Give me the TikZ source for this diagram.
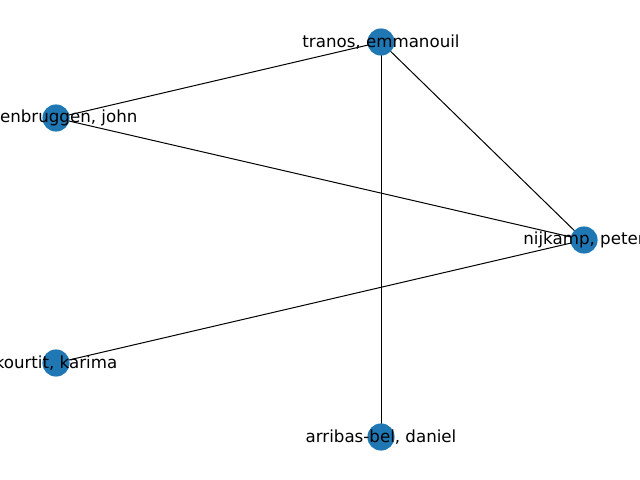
\documentclass[tikz,border=0pt]{standalone}
\usepackage{fontspec}
\setmainfont{DejaVu Sans}
\usepackage{tikz}

\begin{document}
\begin{tikzpicture}
[x=0.72pt,y=-0.72pt,dot/.style={circle,fill=nxblue,inner sep=0pt,minimum size=19.54pt},
 lbl/.style={font=\fontsize{12pt}{14pt}\selectfont,text=black,inner sep=0pt}]
  \definecolor{nxblue}{HTML}{1F77B4}
  \useasboundingbox (0,0) rectangle (640,480);
  \clip (0,0) rectangle (640,480);

  \coordinate (tr) at (381,42);
  \coordinate (st) at (56,118);
  \coordinate (ni) at (584,240);
  \coordinate (ko) at (56,363);
  \coordinate (ar) at (381,437);

  \foreach \from/\to in {tr/st,tr/ni,tr/ar,st/ni,ko/ni}
    \draw[line width=0.72pt] (\from) -- (\to);

  \foreach \n in {tr,st,ni,ko,ar}
    \node[dot] (\n node) at (\n) {};

  \node[lbl] (trl) at (tr) {tranos, emmanouil};
  \node[lbl] (stl) at (st) {steenbruggen, john};
  \node[lbl] (nil) at (ni) {nijkamp, peter};
  \node[lbl] (kol) at (ko) {kourtit, karima};
  \node[lbl] (arl) at (ar) {arribas-bel, daniel};
\end{tikzpicture}
\end{document}
